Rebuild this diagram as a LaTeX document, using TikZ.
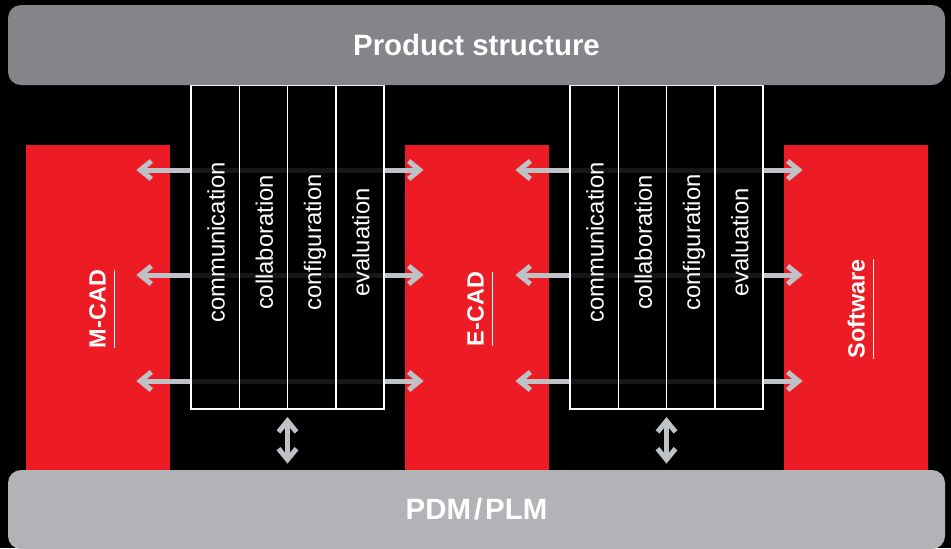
\documentclass[tikz,border=0pt]{standalone}
\usepackage{fontspec}
\setmainfont{Liberation Sans}
\usetikzlibrary{arrows.meta, positioning}

\definecolor{cadred}{HTML}{ED1C24}
\definecolor{bargrey}{HTML}{848589}
\definecolor{baselight}{HTML}{B1B3B6}
\definecolor{linkgrey}{HTML}{BEC2C6}

\begin{document}
\begin{tikzpicture}[
		x=0.5pt, y=-0.5pt,
		bar/.style={rounded corners=6.5pt, minimum width=468.5pt, minimum height=40pt, inner sep=0pt, text=white, font=\fontsize{14.7}{16}\selectfont\bfseries},
		block/.style={fill=cadred, minimum width=72pt, minimum height=162.5pt, inner sep=0pt},
		blocklabel/.style={rotate=90, anchor=base, inner sep=0pt, text depth=4pt, text=white, font=\fontsize{11.7}{13}\selectfont\bfseries},
		cell/.style={draw=white, line width=0.75pt, fill=black, fill opacity=0.88, outer sep=0pt, minimum width=24.125pt, minimum height=162pt, inner sep=0pt},
		celltext/.style={rotate=90, anchor=base, inner sep=0pt, text=white, font=\fontsize{11.9}{13}\selectfont},
		link/.style={draw=linkgrey, line width=2.5pt, {Straight Barb[length=5.5pt,width=9pt]}-{Straight Barb[length=5.5pt,width=9pt]}}
		]

		% Background
		\fill[black] (0,0) rectangle (951,548);
		\useasboundingbox (0,0) rectangle (951,548);

		% CAD blocks
		\node[block] (mcad) at (98,307.5) {};
		\node[block] (ecad) at (477,307.5) {};
		\node[block] (soft) at (856,307.5) {};

		\node[blocklabel] (mcadlabel) at ([xshift=40pt]mcad.west |- 0,309) {M-CAD};
		\node[blocklabel] (ecadlabel) at ([xshift=39.5pt]ecad.west |- 0,309) {E-CAD};
		\node[blocklabel] (softlabel) at ([xshift=40.5pt]soft.west |- 0,309) {Software};
		\foreach \lbl in {mcadlabel, ecadlabel, softlabel}
			\draw[white, line width=0.5pt] (\lbl.south west) -- (\lbl.south east);

		% Links between blocks
		\foreach \from/\to in {mcad/ecad, ecad/soft}
			\foreach \ry in {170,275,381}
				\draw[link] ([xshift=-17pt]\from.east |- 0,\ry) -- ([xshift=9.5pt]\to.west |- 0,\ry);

		% Exchange columns
		\foreach \g/\gx in {a/191, b/570}{
			\node[cell, anchor=north west] (\g1) at (\gx,85) {};
			\foreach \i [count=\j from 2] in {1,2,3}
				\node[cell, right=0pt of \g\i] (\g\j) {};
			\foreach \word [count=\i] in {communication, collaboration, configuration, evaluation}
				\path (\g\i.west) ++(33.5,-4.5) node[celltext] {\word};
		}

		% Bars
		\node[bar, fill=bargrey] (product) at (476.5,45) {Product structure};
		\node[bar, fill=baselight, minimum height=39.5pt] (pdm) at (476.5,509.5) {PDM\kern1.5pt/\kern1.5pt PLM};

		% Links to PDM/PLM
		\foreach \g in {a, b}
			\draw[link] ([yshift=-4pt]\g2.south east) -- ([yshift=3pt]\g2.south east |- pdm.north);

	\end{tikzpicture}
\end{document}
